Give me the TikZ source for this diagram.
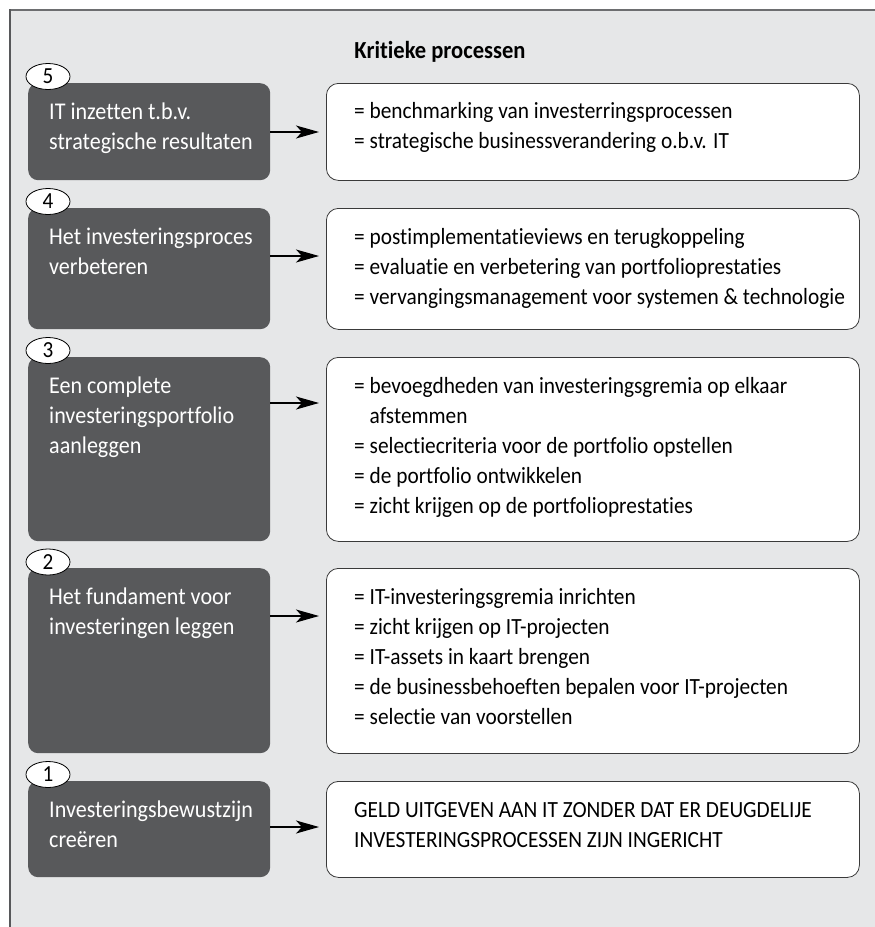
\documentclass[tikz,border=0pt]{standalone}
\usepackage{fontspec}
\setmainfont{Carlito}[FakeStretch=0.92,Ligatures=NoCommon]
\usetikzlibrary{arrows.meta,shapes.geometric}
\definecolor{panel}{HTML}{E6E7E8}
\definecolor{darkfill}{HTML}{58595B}
\definecolor{edgecol}{HTML}{3A3A3A}
\definecolor{framecol}{HTML}{6D6E70}
\newcommand\fstrut{\rule{0pt}{20pt}}
\begin{document}
\begin{tikzpicture}[x=1pt,y=-1pt,
  darkbox/.style={fill=darkfill, rounded corners=10pt, minimum width=242pt, anchor=north west, inner sep=0pt},
  whitebox/.style={fill=white, draw=edgecol, line width=0.8pt, rounded corners=12pt, minimum width=533pt, anchor=north west, inner sep=0pt},
  numoval/.style={ellipse, draw=black, fill=white, line width=0.8pt, minimum width=44pt, minimum height=26pt, inner sep=0pt, font=\fontsize{23}{24}\selectfont},
  darktext/.style={anchor=north west, align=left, text=white, inner sep=0pt, font=\fontsize{24}{30}\selectfont},
  whitetext/.style={anchor=north west, align=left, text=black, inner sep=0pt, font=\fontsize{23.2}{30}\selectfont},
  titletext/.style={font=\fontsize{24.5}{28}\selectfont\bfseries, inner sep=0pt},
  arr/.style={-{Stealth[length=23pt,width=13pt,inset=6pt]}, line width=1.1pt, shorten >=7pt}
]
\useasboundingbox (0,0) rectangle (875,927);
\fill[white] (0,0) rectangle (875,927);
\fill[panel] (10,9.5) rectangle (875,927);
\draw[framecol, line width=2pt] (9,9.5) -- (875,9.5);
\draw[framecol!80!black, line width=1.5pt] (10,9) -- (10,927);

\node[titletext] (title) at (440,52) {Kritieke processen};

% level 5
\node[darkbox, minimum height=97pt] (d5) at (28,83) {};
\node[whitebox, minimum height=97pt] (w5) at (326,83) {};
\node[numoval] (n5) at (48,76.5) {5};
\node[darktext] (t5) at (49,99) {\fstrut IT inzetten t.b.v.\\strategische resultaten};
\node[whitetext] (u5) at (354,98) {\fstrut = benchmarking van investerringsprocessen\\= strategische businessverandering o.b.v. IT};
\draw[arr] ([yshift=-49pt]d5.north east) -- ([yshift=-49pt]w5.north west);

% level 4
\node[darkbox, minimum height=121pt] (d4) at (28,208) {};
\node[whitebox, minimum height=121pt] (w4) at (326,208) {};
\node[numoval] (n4) at (48,201.5) {4};
\node[darktext] (t4) at (49,224) {\fstrut Het investeringsproces\\verbeteren};
\node[whitetext] (u4) at (354,224) {\fstrut = postimplementatieviews en terugkoppeling\\= evaluatie en verbetering van portfolioprestaties\\= vervangingsmanagement voor systemen \& technologie};
\draw[arr] ([yshift=-48pt]d4.north east) -- ([yshift=-48pt]w4.north west);

% level 3
\node[darkbox, minimum height=184pt] (d3) at (28,357) {};
\node[whitebox, minimum height=184pt] (w3) at (326,357) {};
\node[numoval] (n3) at (48,350.5) {3};
\node[darktext] (t3) at (49,373) {\fstrut Een complete\\investeringsportfolio\\aanleggen};
\node[whitetext] (u3) at (354,373) {\fstrut = bevoegdheden van investeringsgremia op elkaar\\\phantom{= }afstemmen\\= selectiecriteria voor de portfolio opstellen\\= de portfolio ontwikkelen\\= zicht krijgen op de portfolioprestaties};
\draw[arr] ([yshift=-46pt]d3.north east) -- ([yshift=-46pt]w3.north west);

% level 2
\node[darkbox, minimum height=185pt] (d2) at (28,568) {};
\node[whitebox, minimum height=185pt] (w2) at (326,568) {};
\node[numoval] (n2) at (48,562) {2};
\node[darktext] (t2) at (49,584) {\fstrut Het fundament voor\\investeringen leggen};
\node[whitetext] (u2) at (354,584) {\fstrut = IT-investeringsgremia inrichten\\= zicht krijgen op IT-projecten\\= IT-assets in kaart brengen\\= de businessbehoeften bepalen voor IT-projecten\\= selectie van voorstellen};
\draw[arr] ([yshift=-48pt]d2.north east) -- ([yshift=-48pt]w2.north west);

% level 1
\node[darkbox, minimum height=96pt] (d1) at (28,781) {};
\node[whitebox, minimum height=96pt] (w1) at (326,781) {};
\node[numoval] (n1) at (48,774.5) {1};
\node[darktext] (t1) at (49,797) {\fstrut Investeringsbewustzijn\\creëren};
\node[whitetext] (u1) at (354,797) {\fstrut GELD UITGEVEN AAN IT ZONDER DAT ER DEUGDELIJE\\INVESTERINGSPROCESSEN ZIJN INGERICHT};
\draw[arr] ([yshift=-46pt]d1.north east) -- ([yshift=-46pt]w1.north west);
\end{tikzpicture}
\end{document}
